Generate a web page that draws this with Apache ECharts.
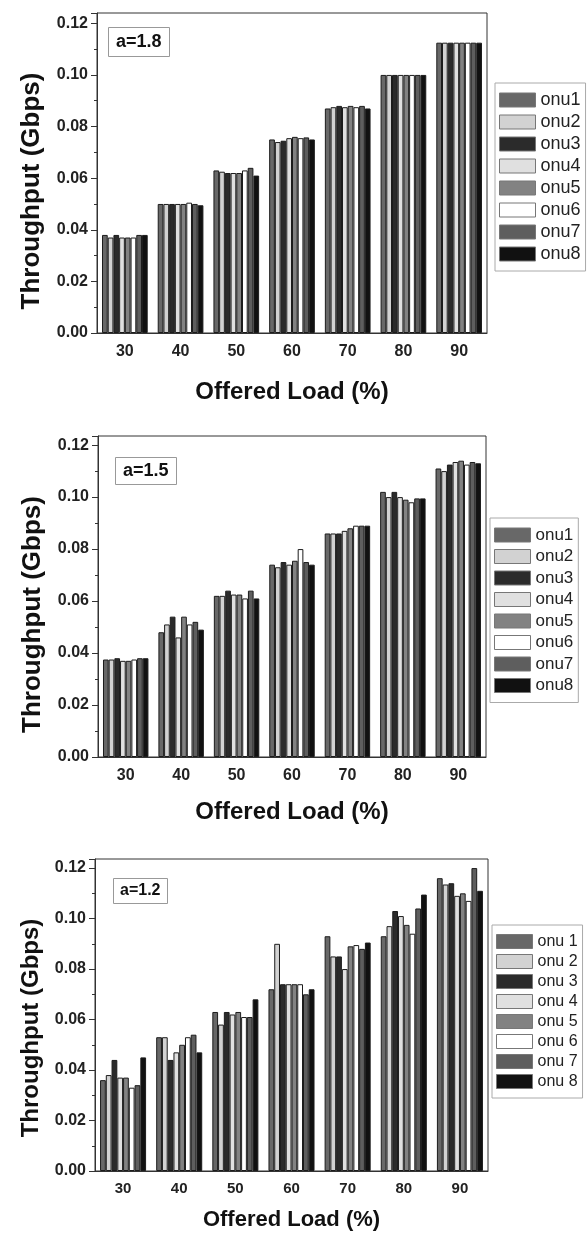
<!DOCTYPE html>
<html lang="en">
<head>
    <meta charset="UTF-8">
    <title>Throughput vs Offered Load</title>
    <style>
        html, body { margin: 0; padding: 0; background: #fff; }
    </style>
</head>
<body>
<div id="main" style="width: 587px;height:1234px;"></div>
<script src="https://cdn.jsdelivr.net/npm/echarts@6/dist/echarts.min.js"></script>
<script>
    // offered load categories (x axis)
    var loads = ['30', '40', '50', '60', '70', '80', '90'];
    var onuNames = ['onu1', 'onu2', 'onu3', 'onu4', 'onu5', 'onu6', 'onu7', 'onu8'];
    var onuNamesSpaced = ['onu 1', 'onu 2', 'onu 3', 'onu 4', 'onu 5', 'onu 6', 'onu 7', 'onu 8'];
    var onuColors = ['#686868', '#d2d2d2', '#2b2b2b', '#e0e0e0', '#828282', '#ffffff', '#5e5e5e', '#111111'];

    // throughput (Gbps), one row per offered load, columns onu1..onu8
    var throughputA18 = [
        [0.038, 0.037, 0.038, 0.037, 0.037, 0.037, 0.038, 0.038],
        [0.050, 0.050, 0.050, 0.050, 0.050, 0.0505, 0.050, 0.0495],
        [0.063, 0.0625, 0.062, 0.062, 0.062, 0.063, 0.064, 0.061],
        [0.075, 0.074, 0.0745, 0.0755, 0.076, 0.0755, 0.0758, 0.075],
        [0.087, 0.0875, 0.088, 0.0875, 0.088, 0.0875, 0.088, 0.087],
        [0.100, 0.100, 0.100, 0.100, 0.100, 0.100, 0.100, 0.100],
        [0.1125, 0.1125, 0.1125, 0.1125, 0.1125, 0.1125, 0.1125, 0.1125]
    ];
    var throughputA15 = [
        [0.0375, 0.0375, 0.038, 0.037, 0.037, 0.0375, 0.038, 0.038],
        [0.048, 0.051, 0.054, 0.046, 0.054, 0.051, 0.052, 0.049],
        [0.062, 0.062, 0.064, 0.0625, 0.0625, 0.061, 0.064, 0.061],
        [0.074, 0.073, 0.075, 0.074, 0.0755, 0.080, 0.075, 0.074],
        [0.086, 0.086, 0.086, 0.087, 0.088, 0.089, 0.089, 0.089],
        [0.102, 0.100, 0.102, 0.100, 0.099, 0.098, 0.0995, 0.0995],
        [0.111, 0.110, 0.1125, 0.1135, 0.114, 0.1125, 0.1135, 0.113]
    ];
    var throughputA12 = [
        [0.036, 0.038, 0.044, 0.037, 0.037, 0.033, 0.034, 0.045],
        [0.053, 0.053, 0.044, 0.047, 0.050, 0.053, 0.054, 0.047],
        [0.063, 0.058, 0.063, 0.062, 0.063, 0.061, 0.061, 0.068],
        [0.072, 0.090, 0.074, 0.074, 0.074, 0.074, 0.070, 0.072],
        [0.093, 0.085, 0.085, 0.080, 0.089, 0.0895, 0.088, 0.0905],
        [0.093, 0.097, 0.103, 0.101, 0.0975, 0.094, 0.104, 0.1095],
        [0.116, 0.1135, 0.114, 0.109, 0.110, 0.107, 0.120, 0.111]
    ];

    var font = 'Liberation Sans, Arial, sans-serif';

    // layout of the three stacked panels
    var panels = [
        { rows: throughputA18, names: onuNames, tag: 'a=1.8', left: 97, right: 100, top: 13, height: 320, max: 0.124,
          yName: 26, yGap: 52, yShift: 36, xName: 24, xGap: 47, xLab: 16, xMargin: 11,
          tagFont: 18, tagPos: [108, 27], tagPad: [6, 8],
          legend: { left: 495, top: 83, fs: 18, lh: 18, gap: 4 } },
        { rows: throughputA15, names: onuNames, tag: 'a=1.5', left: 98, right: 101, top: 436, height: 321, max: 0.1235,
          yName: 26, yGap: 52, yShift: 36, xName: 24, xGap: 43, xLab: 16, xMargin: 11,
          tagFont: 18, tagPos: [115, 457], tagPad: [5, 8],
          legend: { left: 490, top: 518, fs: 17, lh: 18, gap: 3.5 } },
        { rows: throughputA12, names: onuNamesSpaced, tag: 'a=1.2', left: 95, right: 99, top: 859, height: 312, max: 0.1236,
          yName: 24, yGap: 52, yShift: 26, xName: 22, xGap: 38, xLab: 15, xMargin: 10,
          tagFont: 16, tagPos: [113, 878], tagPad: [5, 7],
          legend: { left: 492, top: 925, fs: 16, lh: 17, gap: 3 } }
    ];

    var grid = [], xAxis = [], yAxis = [], series = [], legend = [], title = [];

    panels.forEach(function (p, k) {
        grid.push({
            left: p.left, right: p.right, top: p.top, height: p.height,
            show: true, borderColor: '#333', borderWidth: 1, backgroundColor: 'transparent'
        });
        // main category axis: ticks under the labels
        xAxis.push({
            type: 'category', gridIndex: k, data: loads,
            name: 'Offered Load (%)', nameLocation: 'middle', nameGap: p.xGap,
            nameTextStyle: { fontFamily: font, fontWeight: 'bold', fontSize: p.xName, color: '#111' },
            axisLine: { lineStyle: { color: '#333', width: 1 } },
            axisTick: { alignWithLabel: true, length: 5, lineStyle: { color: '#333' } },
            axisLabel: { fontFamily: font, fontWeight: 'bold', fontSize: p.xLab, color: '#222', margin: p.xMargin },
            splitLine: { show: false }
        });
        // second axis only for the small ticks between groups
        xAxis.push({
            type: 'category', gridIndex: k, data: loads, position: 'bottom',
            axisLine: { show: false },
            axisTick: { length: 3, lineStyle: { color: '#333' } },
            axisLabel: { show: false },
            splitLine: { show: false }
        });
        yAxis.push({
            type: 'value', gridIndex: k, min: 0, max: p.max, interval: 0.02,
            name: 'Throughput (Gbps)', nameLocation: 'middle', nameGap: p.yGap,
            nameTextStyle: { fontFamily: font, fontWeight: 'bold', fontSize: p.yName, color: '#111',
                             padding: [0, p.yShift, 0, 0] },
            axisLine: { show: true, lineStyle: { color: '#333', width: 1 } },
            axisTick: { show: true, length: 6, lineStyle: { color: '#333' } },
            minorTick: { show: true, splitNumber: 2, length: 3, lineStyle: { color: '#333' } },
            axisLabel: {
                fontFamily: font, fontWeight: 'bold', fontSize: 16, color: '#222', margin: 9,
                formatter: function (v) {
                    return Math.abs(v * 50 - Math.round(v * 50)) < 1e-6 ? v.toFixed(2) : '';
                }
            },
            splitLine: { show: false }
        });
        title.push({
            text: p.tag, left: p.tagPos[0], top: p.tagPos[1], padding: p.tagPad,
            borderColor: '#999', borderWidth: 1, backgroundColor: '#fff',
            textStyle: { fontFamily: font, fontWeight: 'bold', fontSize: p.tagFont, color: '#111' }
        });
        legend.push({
            data: p.names, orient: 'vertical', left: p.legend.left, top: p.legend.top,
            icon: 'rect', itemWidth: 36, itemHeight: 14, itemGap: p.legend.gap, padding: [8, 5, 8, 4],
            borderColor: '#aaa', borderWidth: 1, backgroundColor: '#fff', selectedMode: false,
            textStyle: { fontFamily: font, fontSize: p.legend.fs, lineHeight: p.legend.lh, color: '#222' },
            itemStyle: { borderColor: '#777', borderWidth: 1 }
        });
        p.names.forEach(function (n, i) {
            series.push({
                name: n, type: 'bar', xAxisIndex: k * 2, yAxisIndex: k,
                barGap: 0, barCategoryGap: '18%',
                itemStyle: { color: onuColors[i], borderColor: '#1c1c1c', borderWidth: 1 },
                data: p.rows.map(function (r) { return r[i]; })
            });
        });
    });

    var chart = echarts.init(document.getElementById('main'));
    chart.setOption({
        animation: false,
        backgroundColor: '#fff',
        title: title,
        legend: legend,
        grid: grid,
        xAxis: xAxis,
        yAxis: yAxis,
        series: series
    });
</script>
</body>
</html>
